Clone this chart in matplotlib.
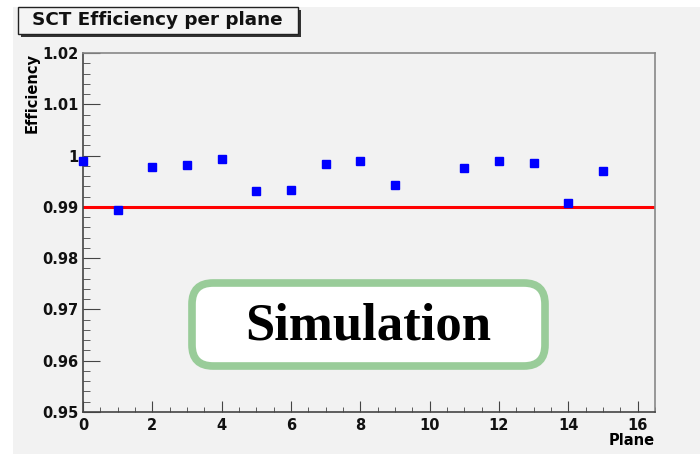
import matplotlib.pyplot as plt
from matplotlib.patches import Rectangle, FancyBboxPatch
from matplotlib.ticker import MultipleLocator

# efficiency per SCT plane (plane 10 has no entry)
planes = [0, 1, 2, 3, 4, 5, 6, 7, 8, 9, 11, 12, 13, 14, 15]
efficiency = [0.9989, 0.9893, 0.9977, 0.9982, 0.9993, 0.9931, 0.9933, 0.9984,
              0.9989, 0.9943, 0.9975, 0.9989, 0.9985, 0.9907, 0.9970]
threshold = 0.99

plt.rcParams['font.family'] = ['DejaVu Sans']

fig = plt.figure(figsize=(7, 4.54), dpi=100, facecolor='white')
# grey canvas behind everything
fig.patches.append(Rectangle((13 / 700, 0), 1, 1 - 7 / 454, transform=fig.transFigure,
                             facecolor='#f2f2f2', edgecolor='none', zorder=-10))

ax = fig.add_axes([83 / 700, 1 - 412 / 454, (655 - 83) / 700, (412 - 53) / 454])
ax.set_facecolor('#f2f2f2')

ax.plot(planes, efficiency, 's', color='#0000ff', markersize=6, zorder=3, clip_on=False)
ax.plot([0, 16.5], [threshold, threshold], color='#ff0000', linewidth=2.2, zorder=2)

ax.set_xlim(0, 16.5)
ax.set_ylim(0.95, 1.02)
ax.xaxis.set_major_locator(MultipleLocator(2))
ax.xaxis.set_minor_locator(MultipleLocator(0.5))
ax.yaxis.set_minor_locator(MultipleLocator(0.002))
ax.set_yticks([0.95, 0.96, 0.97, 0.98, 0.99, 1.0, 1.01, 1.02])
ax.set_yticklabels(['0.95', '0.96', '0.97', '0.98', '0.99', '1', '1.01', '1.02'])

ax.tick_params(axis='both', which='both', direction='in', colors='#444444',
               labelcolor='#111111', labelsize=10.5)
ax.tick_params(axis='y', which='major', length=12, pad=3)
ax.tick_params(axis='y', which='minor', length=5)
ax.tick_params(axis='x', which='major', length=8, pad=4)
ax.tick_params(axis='x', which='minor', length=3.5)
for lab in ax.get_xticklabels() + ax.get_yticklabels():
    lab.set_fontweight('bold')

for side in ['left', 'bottom']:
    ax.spines[side].set_color('#444444')
    ax.spines[side].set_linewidth(1.2)
for side in ['top', 'right']:
    ax.spines[side].set_color('#888888')
    ax.spines[side].set_linewidth(1.2)

ax.set_ylabel('Efficiency', fontsize=10.5, fontweight='bold', loc='top', labelpad=2)
ax.set_xlabel('Plane', fontsize=10.5, fontweight='bold', loc='right', labelpad=0)

# title box with drop shadow
fig.patches.append(Rectangle((21 / 700, 1 - 37 / 454), 280 / 700, 27 / 454,
                             transform=fig.transFigure, facecolor='#333333',
                             edgecolor='none', zorder=1))
fig.patches.append(Rectangle((18 / 700, 1 - 34 / 454), 280 / 700, 27 / 454,
                             transform=fig.transFigure, facecolor='#f4f4f4',
                             edgecolor='#222222', linewidth=1, zorder=2))
fig.text(157 / 700, 1 - 20 / 454, 'SCT Efficiency per plane', fontsize=13.2,
         fontweight='bold', ha='center', va='center', color='#111111', zorder=3)

# simulation label
fig.patches.append(FancyBboxPatch((192 / 700, 1 - 366 / 454), 353 / 700, 83 / 454,
                                  boxstyle='round,pad=0,rounding_size=0.03',
                                  transform=fig.transFigure, facecolor='white',
                                  edgecolor='#99cc99', linewidth=5.5, zorder=4,
                                  mutation_aspect=700 / 454))
fig.text(368 / 700, 1 - 327 / 454, 'Simulation', fontsize=38, fontweight='bold',
         family=['Liberation Serif', 'DejaVu Serif'], ha='center', va='center',
         color='black', zorder=5)

fig.savefig('out.png', dpi=100, facecolor=fig.get_facecolor())
